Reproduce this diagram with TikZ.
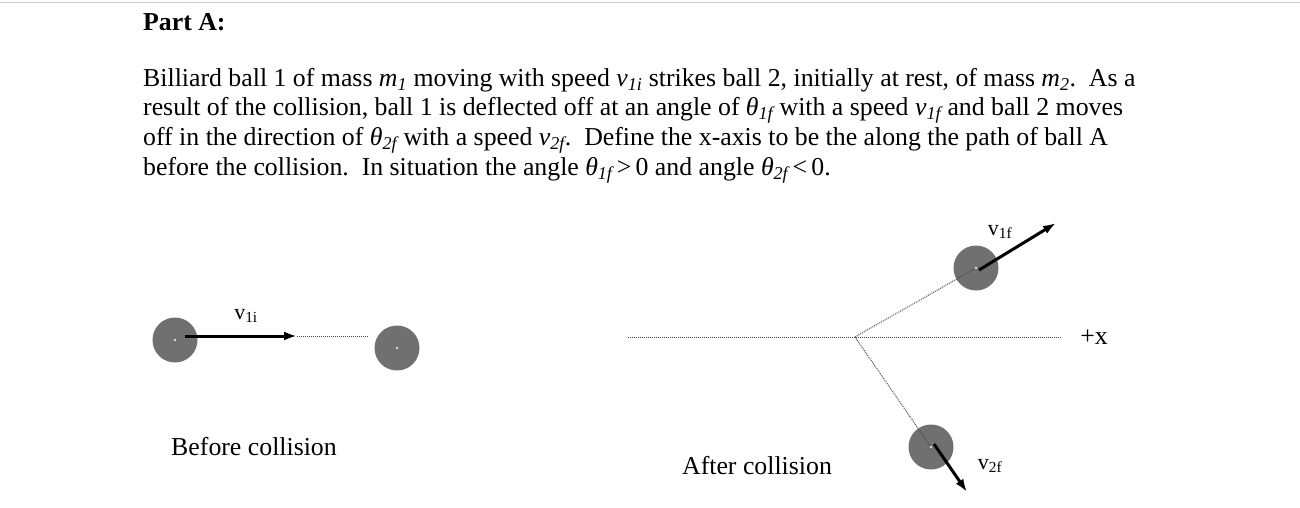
\documentclass[tikz,border=0pt]{standalone}
\usepackage{fontspec}
\setmainfont{Liberation Serif}
\usetikzlibrary{arrows.meta}
\newcommand{\isub}[2]{\textit{#1\textsubscript{#2}}}
\definecolor{ballgray}{HTML}{707070}
\begin{document}
\begin{tikzpicture}[x=1pt,y=-1pt,
  ball/.style={circle,fill=ballgray,minimum size=45pt,inner sep=0pt},
  txt/.style={anchor=west,inner sep=0pt,font=\fontsize{25.8}{30}\selectfont},
  lab/.style={inner sep=0pt,font=\fontsize{22}{26}\selectfont},
  vec/.style={-{Latex[length=13pt,width=9pt]},line width=3pt},
  dot/.style={densely dotted,line width=1pt,gray!60!black}]
\useasboundingbox (0,0) rectangle (1300,507);
\draw[gray!40] (0,2) -- (1300,2);
\node[txt,font=\fontsize{25.8}{30}\selectfont\bfseries] (t0) at (143,22) {Part A:};
\node[txt] (t1) at (143,80) {Billiard ball 1 of mass \isub{m}{1} moving with speed \isub{v}{1i} strikes ball 2, initially at rest, of mass \isub{m}{2}.\ \ As a};
\node[txt] (t2) at (143,110) {result of the collision, ball 1 is deflected off at an angle of \isub{θ}{1f} with a speed \isub{v}{1f} and ball 2 moves};
\node[txt] (t3) at (143,140) {off in the direction of \isub{θ}{2f} with a speed \isub{v}{2f}.\ \ Define the x-axis to be the along the path of ball A};
\node[txt] (t4) at (143,170) {before the collision.\ \ In situation the angle \isub{θ}{1f}\,>\,0 and angle \isub{θ}{2f}\,<\,0.};
% before
\node[ball] (b1) at (175,340) {};
\node[ball] (b2) at (397,348) {};
\fill[white] (b1.center) circle (1.2pt) (b2.center) circle (1.2pt);
\coordinate (a1s) at (185,336);
\coordinate (a1e) at (297,336);
\coordinate (d1e) at (368,336);
\draw[dot] (a1e) -- (d1e);
\draw[vec] (a1s) -- (a1e);
\node[lab] (l1i) at (246,316) {v\textsubscript{1i}};
\node[font=\fontsize{25.8}{30}\selectfont,inner sep=0pt] (bc) at (254,447) {Before collision};
% after
\coordinate (o) at (855,337);
\coordinate (xl) at (628,337);
\coordinate (xr) at (1062,337);
\node[ball] (c1) at (976,268) {};
\node[ball] (c2) at (931,447) {};
\draw[dot] (xl) -- (xr);
\draw[dot] (o) -- (c1.center);
\draw[dot] (o) -- (c2.center);
\fill[white] (c1.center) circle (1.2pt) (c2.center) circle (1.2pt);
\coordinate (e1) at (1056,223);
\coordinate (e2) at (967,492);
\draw[vec] ([xshift=3pt,yshift=-2pt]c1.center) -- (e1);
\draw[vec] ([xshift=3pt,yshift=3pt]c2.center) -- (e2);
\node[lab] (l1f) at (1000,232) {v\textsubscript{1f}};
\node[lab] (l2f) at (990,466) {v\textsubscript{2f}};
\node[font=\fontsize{25.8}{30}\selectfont,inner sep=0pt] (px) at (1094,337) {+x};
\node[font=\fontsize{25.8}{30}\selectfont,inner sep=0pt] (ac) at (757,466) {After collision};
\end{tikzpicture}
\end{document}
